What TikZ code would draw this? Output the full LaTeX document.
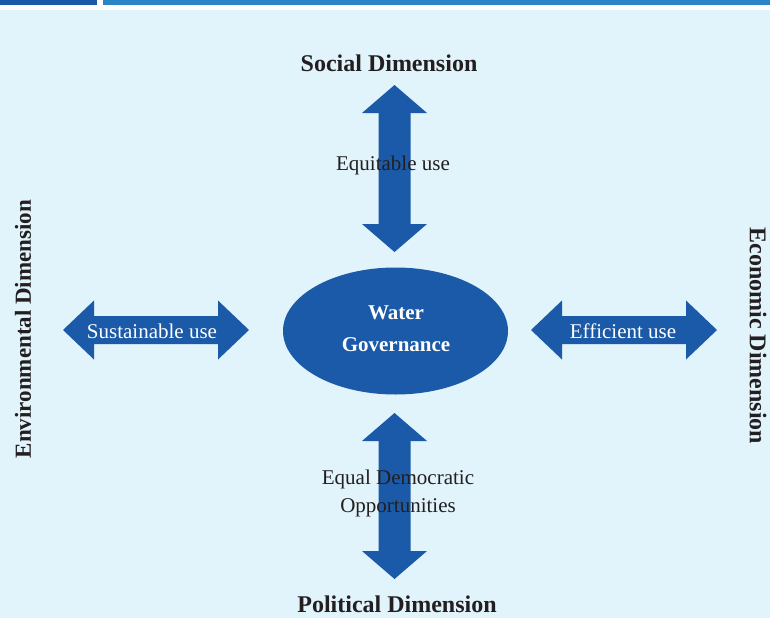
\documentclass[tikz,border=0pt]{standalone}
\usepackage{fontspec}
\setmainfont{Liberation Serif}
\usetikzlibrary{shapes.geometric}
\definecolor{govblue}{RGB}{27,90,168}
\definecolor{barblue}{RGB}{43,134,199}
\definecolor{paleblue}{RGB}{225,243,251}
\definecolor{inkgray}{RGB}{35,31,32}
\tikzset{
	dimlabel/.style={font=\fontsize{24}{28}\selectfont\bfseries, text=inkgray, inner sep=0pt},
	uselabel/.style={font=\fontsize{21}{28}\selectfont, text=inkgray, inner sep=0pt, align=center},
	inlabel/.style={font=\fontsize{21}{28}\selectfont, text=white, inner sep=0pt},
}
% double arrows: #1,#2 tips, #3 middle line
\newcommand{\harrowshape}[3]{\fill[govblue] (#1,#3)--(#1+31,#3-29.5)--(#1+31,#3-14)--(#2-31,#3-14)--(#2-31,#3-29.5)--(#2,#3)--(#2-31,#3+29.5)--(#2-31,#3+14)--(#1+31,#3+14)--(#1+31,#3+29.5)--cycle;}
\newcommand{\varrowshape}[3]{\fill[govblue] (#3,#1)--(#3+32.5,#1+28)--(#3+16,#1+28)--(#3+16,#2-28)--(#3+32.5,#2-28)--(#3,#2)--(#3-32.5,#2-28)--(#3-16,#2-28)--(#3-16,#1+28)--(#3-32.5,#1+28)--cycle;}
\begin{document}
\begin{tikzpicture}[x=1pt, y=-1pt, line join=round, line cap=round]
	\useasboundingbox (0,0) rectangle (770,618);
	\fill[white] (0,0) rectangle (770,618);
	\fill[paleblue] (0,10) rectangle (770,618);
	\fill[govblue] (0,0) rectangle (97,5);
	\fill[barblue] (103,0) rectangle (770,5);
	
	\harrowshape{63}{249}{330}
	\harrowshape{531}{717}{330}
	\varrowshape{85}{252}{394.5}
	\varrowshape{413}{579}{394.5}
	
	\node[ellipse, fill=govblue, minimum width=225, minimum height=127, inner sep=0pt] (wg) at (395.5,331) {};
	\node[text=white, align=center, inner sep=0pt, font=\fontsize{21}{32}\selectfont\bfseries] (wgtext) at (396,328.5) {Water\\Governance};
	
	\node[dimlabel] (social) at (389,63) {Social Dimension};
	\node[dimlabel] (political) at (397,604) {Political Dimension};
	\node[dimlabel, font=\fontsize{23}{28}\selectfont\bfseries, rotate=90] (environ) at (23,329) {Environmental Dimension};
	\node[dimlabel, rotate=-90] (econ) at (758,336) {Economic Dimension};
	
	\node[uselabel] (equit) at (393,165) {Equitable use};
	\node[uselabel] (equal) at (398,493) {Equal Democratic\\Opportunities};
	\node[inlabel] (sustain) at (152,331) {Sustainable use};
	\node[inlabel] (effic) at (623,331) {Efficient use};
\end{tikzpicture}
\end{document}
